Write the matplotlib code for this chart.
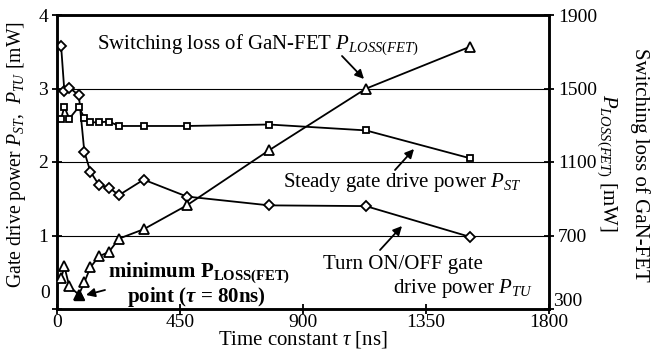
import numpy as np
import matplotlib
matplotlib.use("Agg")
import matplotlib.pyplot as plt

plt.rcParams['font.family'] = ['Liberation Serif', 'DejaVu Serif']
plt.rcParams['mathtext.fontset'] = 'custom'
plt.rcParams['mathtext.rm'] = 'Liberation Serif'
plt.rcParams['mathtext.it'] = 'Liberation Serif:italic'
plt.rcParams['mathtext.bf'] = 'Liberation Serif:bold'
plt.rcParams['mathtext.bfit'] = 'Liberation Serif:italic:bold'

# data
tau = [15, 27, 45, 80, 100, 122, 153, 190, 227, 317, 475, 776, 1130, 1512]
p_tu = [3.58, 2.96, 3.01, 2.91, 2.14, 1.87, 1.69, 1.65, 1.55, 1.76, 1.53, 1.41, 1.40, 0.98]
p_st = [2.59, 2.75, 2.59, 2.75, 2.60, 2.54, 2.54, 2.55, 2.49, 2.49, 2.49, 2.51, 2.43, 2.05]
p_loss = [466, 532, 423, 378, 445, 526, 586, 611, 683, 734, 864, 1164, 1499, 1728]
min_idx = 3

x_ticks = [0, 450, 900, 1350, 1800]
left_ticks = [0, 1, 2, 3, 4]
right_ticks = [300, 700, 1100, 1500, 1900]

W, H = 665, 349
fig = plt.figure(figsize=(W / 100, H / 100), dpi=100)
ax = fig.add_axes([57 / W, 1 - 309 / H, (549 - 57) / W, (309 - 15) / H])
ax2 = ax.twinx()

def px(x, y):
    return (x / W, 1 - y / H)

fs = 14
afs = 15
lw = 1.3

ax.plot(tau, p_tu, color='k', lw=lw, marker='D', ms=5.5, mfc='white', mec='k', mew=1.3, zorder=3)
ax.plot(tau, p_st, color='k', lw=lw, marker='s', ms=5, mfc='white', mec='k', mew=1.3, zorder=3)
ax2.plot(tau, p_loss, color='k', lw=lw, marker='^', ms=7, mfc='white', mec='k', mew=1.3, zorder=3)
ax2.plot([tau[min_idx]], [p_loss[min_idx]], ls='none', marker='^', ms=7, mfc='k', mec='k', zorder=4)

ax.set_xlim(0, 1800)
ax.set_ylim(0, 4)
ax2.set_ylim(300, 1900)
ax.set_xticks(x_ticks)
ax.set_yticks(left_ticks)
ax.set_yticklabels([''] + [str(v) for v in left_ticks[1:]])
ax2.set_yticks(right_ticks)
ax2.set_yticklabels([''] + [str(v) for v in right_ticks[1:]])

ax.yaxis.grid(True, color='k', lw=0.8)
ax.set_axisbelow(True)

for a in (ax, ax2):
    for s in a.spines.values():
        s.set_linewidth(1.8)
    a.tick_params(direction='inout', length=7, width=1.3, labelsize=fs, pad=3)
ax.tick_params(axis='x', pad=0)

fig.text(*px(50, 293), '0', fontsize=fs, ha='right', va='center')
fig.text(*px(553, 302), '300', fontsize=fs, ha='left', va='center')

fig.text(*px(303, 345), r'Time constant $\tau$ [ns]', fontsize=15, ha='center', va='baseline')
fig.text(*px(17, 155), r'Gate drive power $P_{ST}$,  $P_{TU}$ [mW]', fontsize=14.2,
         ha='center', va='center', rotation=90)
fig.text(*px(640, 165), 'Switching loss of GaN-FET', fontsize=15, ha='center', va='center', rotation=270)
fig.text(*px(607, 163), r'$P_{LOSS(FET)}$ [mW]', fontsize=15, ha='center', va='center', rotation=270)

fig.text(*px(97, 45), r'Switching loss of GaN-FET $P_{LOSS(FET)}$', fontsize=afs, ha='left', va='center')
fig.text(*px(283, 183), r'Steady gate drive power $P_{ST}$', fontsize=afs, ha='left', va='center')
fig.text(*px(323, 264), 'Turn ON/OFF gate', fontsize=afs, ha='left', va='center')
fig.text(*px(393, 289), r'drive power $P_{TU}$', fontsize=afs, ha='left', va='center')
fig.text(*px(108, 273), r'minimum P$_{\mathbf{LOSS(FET)}}$', fontsize=15, fontweight='bold',
         ha='left', va='center')
fig.text(*px(127, 297), r'point ($\mathbfit{\tau}$ = 80ns)', fontsize=15, fontweight='bold',
         ha='left', va='center')

arrow = dict(arrowstyle='-|>', color='k', lw=1.3, mutation_scale=13, shrinkA=0, shrinkB=0)
for tail, head in [((342, 56), (364, 79)), ((395, 170), (414, 149)),
                   ((380, 250), (402, 226)), ((105, 290), (86, 295))]:
    fig.add_artist(matplotlib.patches.FancyArrowPatch(
        px(*tail), px(*head), transform=fig.transFigure, **arrow))

fig.savefig('out.png', dpi=100)
